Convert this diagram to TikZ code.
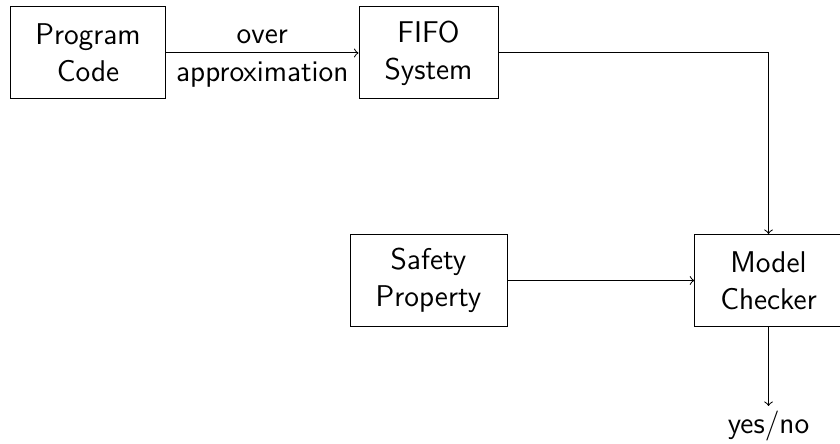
\documentclass[tikz,border=0pt]{standalone}
\begin{document}
\begin{tikzpicture}[x=0.4pt,y=-0.4pt,
  every node/.style={font=\sffamily\fontsize{12}{14.8}\selectfont},
  blk/.style={draw, align=center, minimum height=36.8pt, inner sep=0pt},
  conn/.style={->}]
\useasboundingbox (0,0) rectangle (840,444);
\node[blk, minimum width=62pt] (pc) at (88,53) {Program\\Code};
\node[blk, minimum width=55.6pt] (fifo) at (428.5,53) {FIFO\\System};
\node[blk, minimum width=62.8pt] (sp) at (428.5,280.5) {Safety\\Property};
\node[blk, minimum width=59pt] (mc) at (768.5,280.5) {Model\\Checker};
\node[anchor=north, inner sep=2pt] (yn) at (768.5,406) {yes/no};
\draw[conn] (pc) -- node[above] {over} node[below] {approximation} (fifo);
\draw[conn] (fifo.east) -| (mc.north);
\draw[conn] (sp) -- (mc);
\draw[conn] (mc.south) -- (yn.north);
\end{tikzpicture}
\end{document}
